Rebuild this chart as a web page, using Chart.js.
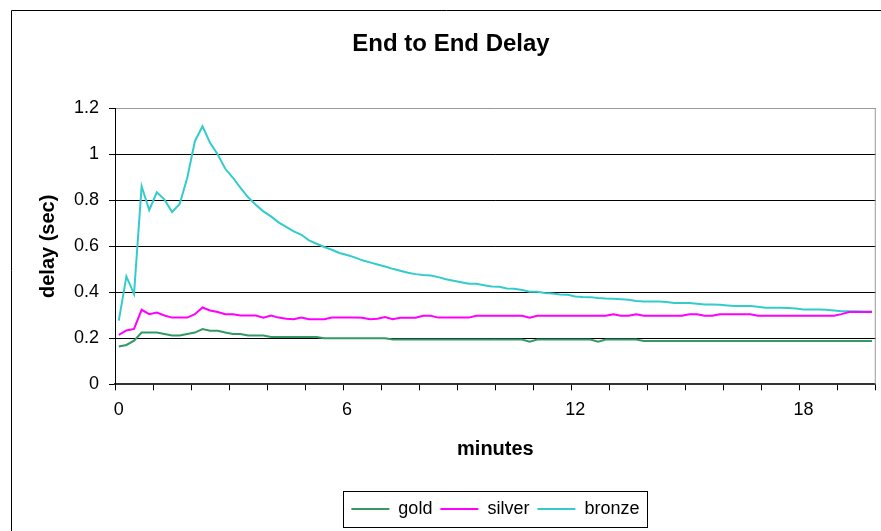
<!DOCTYPE html>
<html>
<head>
<meta charset="utf-8">
<script src="https://cdn.jsdelivr.net/npm/chart.js@4.4.1/dist/chart.umd.min.js"></script>
<style>
  html, body { margin: 0; padding: 0; background: #fff; }
  canvas { display: block; }
</style>
</head>
<body>
<canvas id="chartDelay" width="881" height="531"></canvas>
<script>
// samples every 12 s (0.2 min), 100 samples
const minutes = Array.from({ length: 100 }, (_, i) => +(i * 0.2).toFixed(1));
const tickLabels = [0, 6, 12, 18];

const gold = [
  0.164, 0.171, 0.190, 0.225, 0.225, 0.225, 0.219, 0.212, 0.212, 0.219,
  0.225, 0.240, 0.233, 0.233, 0.225, 0.219, 0.219, 0.212, 0.212, 0.212,
  0.206, 0.206, 0.206, 0.206, 0.206, 0.206, 0.206, 0.200, 0.200, 0.200,
  0.200, 0.200, 0.200, 0.200, 0.200, 0.200, 0.195, 0.195, 0.195, 0.195,
  0.195, 0.195, 0.195, 0.195, 0.195, 0.195, 0.195, 0.195, 0.195, 0.195,
  0.195, 0.195, 0.195, 0.195, 0.185, 0.195, 0.195, 0.195, 0.195, 0.195,
  0.195, 0.195, 0.195, 0.185, 0.195, 0.195, 0.195, 0.195, 0.195, 0.188,
  0.188, 0.188, 0.188, 0.188, 0.188, 0.188, 0.188, 0.188, 0.188, 0.188,
  0.188, 0.188, 0.188, 0.188, 0.188, 0.188, 0.188, 0.188, 0.188, 0.188,
  0.188, 0.188, 0.188, 0.188, 0.188, 0.188, 0.188, 0.188, 0.188, 0.188
];

const silver = [
  0.215, 0.234, 0.241, 0.324, 0.305, 0.312, 0.299, 0.290, 0.290, 0.290,
  0.305, 0.334, 0.321, 0.314, 0.305, 0.305, 0.299, 0.299, 0.299, 0.290,
  0.299, 0.290, 0.285, 0.283, 0.290, 0.283, 0.283, 0.283, 0.290, 0.290,
  0.290, 0.290, 0.289, 0.283, 0.285, 0.292, 0.283, 0.289, 0.289, 0.289,
  0.298, 0.298, 0.290, 0.290, 0.290, 0.290, 0.290, 0.298, 0.298, 0.298,
  0.298, 0.298, 0.298, 0.298, 0.289, 0.298, 0.298, 0.298, 0.298, 0.298,
  0.298, 0.298, 0.298, 0.298, 0.298, 0.305, 0.298, 0.298, 0.305, 0.298,
  0.298, 0.298, 0.298, 0.298, 0.298, 0.305, 0.305, 0.298, 0.298, 0.305,
  0.305, 0.305, 0.305, 0.305, 0.298, 0.298, 0.298, 0.298, 0.298, 0.298,
  0.298, 0.298, 0.298, 0.298, 0.298, 0.305, 0.314, 0.314, 0.314, 0.314
];

const bronze = [
  0.277, 0.469, 0.392, 0.861, 0.757, 0.835, 0.803, 0.749, 0.784, 0.898,
  1.057, 1.122, 1.050, 0.999, 0.937, 0.898, 0.854, 0.813, 0.781, 0.752,
  0.730, 0.704, 0.684, 0.665, 0.650, 0.626, 0.611, 0.597, 0.585, 0.571,
  0.562, 0.552, 0.539, 0.530, 0.521, 0.512, 0.502, 0.494, 0.485, 0.479,
  0.475, 0.473, 0.466, 0.457, 0.450, 0.444, 0.437, 0.437, 0.431, 0.425,
  0.424, 0.417, 0.415, 0.410, 0.402, 0.402, 0.397, 0.395, 0.390, 0.389,
  0.382, 0.380, 0.379, 0.375, 0.373, 0.372, 0.370, 0.368, 0.362, 0.360,
  0.360, 0.360, 0.358, 0.354, 0.353, 0.353, 0.350, 0.347, 0.347, 0.346,
  0.343, 0.340, 0.340, 0.340, 0.337, 0.333, 0.333, 0.333, 0.332, 0.330,
  0.325, 0.325, 0.325, 0.324, 0.321, 0.318, 0.318, 0.318, 0.317, 0.317
];

const FONT = "'Liberation Sans', Arial, sans-serif";

// frame around whole chart, right edge of plot, box around legend
const framePlugin = {
  id: "frame",
  afterDraw(chart) {
    const ctx = chart.ctx;
    const a = chart.chartArea;
    ctx.save();
    ctx.strokeStyle = "#000";
    ctx.lineWidth = 1;
    ctx.beginPath();
    ctx.moveTo(11.5, 531);
    ctx.lineTo(11.5, 10.5);
    ctx.lineTo(881, 10.5);
    ctx.stroke();

    ctx.strokeStyle = "#999";
    ctx.beginPath();
    ctx.moveTo(a.right - 0.5, a.top);
    ctx.lineTo(a.right - 0.5, a.bottom);
    ctx.stroke();

    const lg = chart.legend;
    const boxes = lg.legendHitBoxes;
    if (boxes && boxes.length) {
      const last = boxes[boxes.length - 1];
      const l = boxes[0].left - 8;
      const r = last.left + last.width + 8;
      ctx.strokeStyle = "#000";
      ctx.strokeRect(Math.round(l) + 0.5, Math.round(lg.top) - 0.5, Math.round(r - l), Math.round(lg.bottom - lg.top));
    }
    ctx.restore();
  }
};

const ctxD = document.getElementById("chartDelay");

new Chart(ctxD, {
  type: "line",
  data: {
    labels: minutes,
    datasets: [
      { label: "gold", data: gold, borderColor: "#339966", backgroundColor: "#339966" },
      { label: "silver", data: silver, borderColor: "#ff00ff", backgroundColor: "#ff00ff" },
      { label: "bronze", data: bronze, borderColor: "#33cccc", backgroundColor: "#33cccc" }
    ]
  },
  options: {
    responsive: false,
    animation: false,
    elements: {
      line: { borderWidth: 2, tension: 0, fill: false },
      point: { radius: 0 }
    },
    layout: { padding: { left: 24, right: 3, top: 0, bottom: 3 } },
    plugins: {
      title: {
        display: true,
        text: "End to End Delay",
        color: "#000",
        font: { family: FONT, size: 24, weight: "bold" },
        padding: { top: 29.5, bottom: 50 }
      },
      legend: {
        position: "bottom",
        fullSize: false,
        labels: {
          color: "#000",
          font: { family: FONT, size: 18 },
          boxWidth: 38,
          boxHeight: 2,
          padding: 8,
          generateLabels(chart) {
            return Chart.defaults.plugins.legend.labels.generateLabels(chart).map(it => {
              it.lineWidth = 0;
              return it;
            });
          }
        }
      },
      tooltip: { enabled: false }
    },
    scales: {
      x: {
        type: "category",
        offset: true,
        afterFit(scale) { scale.height = 107.7; },
        grid: {
          offset: true,
          drawOnChartArea: false,
          tickLength: 6,
          tickColor: c => (c.type !== "tick" || c.index % 5 === 0) ? "#000" : "rgba(0,0,0,0)"
        },
        border: { color: "#333", width: 2 },
        ticks: {
          autoSkip: false,
          maxRotation: 0,
          color: "#000",
          padding: 9,
          font: { family: FONT, size: 18 },
          callback: (v, i) => tickLabels.includes(minutes[i]) ? String(minutes[i]) : ""
        },
        title: {
          display: true,
          text: "minutes",
          color: "#000",
          font: { family: FONT, size: 20, weight: "bold" },
          padding: { top: 0, bottom: 31 }
        }
      },
      y: {
        min: 0,
        max: 1.2,
        afterFit(scale) { scale.width = 91; },
        grid: {
          color: c => (c.tick && c.tick.value > 1.19) ? "#999" : "#000",
          tickColor: "#000",
          tickLength: 6
        },
        border: { color: "#000", width: 1 },
        ticks: {
          stepSize: 0.2,
          color: "#000",
          padding: 10,
          font: { family: FONT, size: 18 },
          callback: v => String(+v.toFixed(1))
        },
        title: {
          display: true,
          text: "delay (sec)",
          color: "#000",
          font: { family: FONT, size: 20, weight: "bold" },
          padding: { top: 12, bottom: 0 }
        }
      }
    }
  },
  plugins: [framePlugin]
});
</script>
</body>
</html>
